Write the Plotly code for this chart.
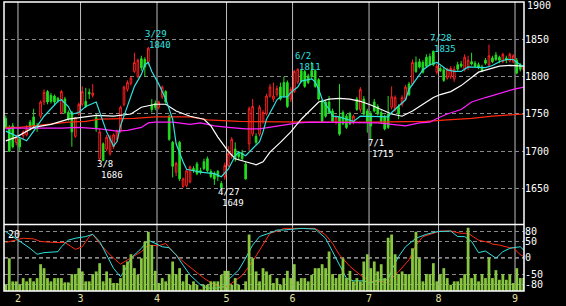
import plotly.graph_objects as go

# ---------------- data (trading-day index 0 = 2022-01-25) ----------------
opens = [1744,1732,1734,1712,1716,1721,1722,1739,1746,1734,1747,1766,1780,1775,1774,1771,1752,1770,1752,1752,
         1720,1750,1763,1767,1779,1775,1745,1690,1710,1703,1697,1706,1716,1727,1763,1783,1791,1807,1800,1824,
         1823,1819,1762,1764,1759,1773,1780,1747,1712,1672,1712,1653,1654,1659,1677,1683,1674,1686,1690,1673,
         1670,1673,1657,1666,1681,1694,1703,1697,1698,1683,1710,1723,1720,1723,1740,1750,1774,1770,1776,1786,
         1792,1792,1770,1780,1793,1808,1807,1801,1808,1808,1796,1767,1766,1766,1754,1739,1746,1752,1747,1750,
         1739,1770,1756,1770,1754,1750,1766,1760,1752,1746,1750,1759,1756,1760,1763,1770,1790,1790,1819,1820,
         1819,1826,1827,1834,1806,1811,1809,1798,1800,1797,1816,1817,1810,1812,1820,1818,1816,1813,1822,1816,
         1825,1829,1826,1820,1825,1821,1820,1822,1815,1809]
highs = [1748,1735,1738,1722,1718,1728,1735,1742,1757,1738,1768,1783,1782,1778,1776,1773,1782,1773,1755,1754,
         1746,1765,1787,1785,1784,1790,1750,1730,1712,1722,1722,1724,1729,1761,1788,1795,1800,1832,1824,1828,
         1826,1840,1770,1768,1768,1788,1782,1749,1714,1686,1714,1665,1676,1681,1680,1686,1678,1690,1693,1676,
         1673,1675,1660,1685,1707,1719,1712,1700,1702,1686,1760,1770,1724,1762,1755,1777,1790,1792,1788,1792,
         1800,1795,1786,1809,1811,1810,1809,1804,1820,1810,1798,1770,1768,1774,1757,1748,1790,1755,1750,1753,
         1749,1773,1786,1774,1757,1754,1770,1763,1755,1749,1774,1787,1775,1763,1775,1789,1793,1823,1827,1824,
         1822,1830,1831,1835,1817,1814,1812,1812,1814,1814,1820,1821,1830,1828,1832,1821,1819,1816,1825,1843,
         1828,1833,1828,1832,1828,1832,1830,1825,1818,1815]
lows = [1730,1699,1704,1708,1700,1716,1720,1728,1730,1726,1744,1762,1763,1764,1762,1765,1750,1750,1741,1706,
        1718,1748,1760,1758,1770,1772,1726,1686,1687,1700,1694,1703,1714,1725,1760,1780,1788,1805,1798,1808,
        1800,1815,1752,1755,1756,1770,1764,1714,1665,1667,1660,1651,1652,1657,1671,1668,1669,1675,1672,1664,
        1655,1660,1649,1662,1679,1690,1686,1688,1688,1662,1700,1720,1708,1720,1737,1748,1772,1766,1773,1768,
        1772,1758,1766,1778,1790,1792,1785,1790,1797,1785,1768,1738,1745,1750,1738,1736,1721,1735,1730,1735,
        1736,1754,1752,1748,1725,1715,1752,1748,1738,1728,1730,1756,1753,1743,1760,1768,1774,1788,1805,1811,
        1804,1812,1814,1814,1803,1806,1793,1796,1797,1793,1808,1812,1807,1809,1815,1812,1810,1806,1816,1813,
        1818,1821,1818,1818,1818,1819,1818,1803,1807,1807]
closes = [1732,1700,1706,1719,1706,1726,1730,1732,1734,1730,1766,1779,1766,1767,1766,1768,1780,1752,1743,1726,
          1745,1763,1780,1760,1777,1778,1730,1726,1688,1719,1719,1722,1727,1759,1786,1792,1798,1819,1822,1812,
          1813,1838,1756,1759,1766,1786,1766,1716,1680,1684,1663,1663,1674,1679,1674,1670,1672,1677,1674,1666,
          1663,1666,1651,1681,1697,1716,1690,1693,1690,1663,1757,1760,1712,1759,1752,1774,1786,1774,1784,1770,
          1774,1760,1783,1807,1810,1794,1787,1792,1800,1787,1770,1740,1747,1752,1740,1746,1723,1737,1732,1737,
          1747,1756,1783,1750,1740,1734,1754,1750,1740,1730,1732,1773,1772,1750,1772,1786,1776,1819,1807,1813,
          1806,1814,1816,1816,1814,1808,1795,1810,1811,1810,1810,1814,1826,1822,1817,1814,1812,1808,1818,1828,
          1820,1823,1822,1830,1822,1830,1828,1805,1810,1813]
volumes = [63,330,97,97,63,130,97,130,97,130,270,230,130,97,130,130,130,87,87,170,
           170,230,197,97,97,170,197,280,97,197,130,80,80,130,263,297,370,230,163,330,
           497,597,463,203,80,130,97,170,297,170,230,97,170,63,97,63,13,63,63,97,
           97,97,163,203,203,63,130,63,13,97,570,330,197,97,230,197,163,80,130,63,
           130,203,130,270,97,130,130,97,163,230,230,270,230,397,170,130,170,330,130,203,
           97,130,97,297,370,230,297,197,270,130,537,570,370,170,197,170,170,430,597,330,
           97,170,170,280,97,170,230,130,63,97,97,130,170,637,130,170,97,170,130,337,
           130,210,113,170,113,163,80,230,130,130]

month_start_idx = [4, 22, 44, 64, 83, 105, 125, 147]
month_labels = ["2", "3", "4", "5", "6", "7", "8", "9"]

# moving averages: (day index, value)
ma5_x = [0,6,8,11,15,16,18,19,21,23,26,27,29,31,32,33,35,37,39,40,41,42,44,46,48,49,51,52,56,60,62,64,66,67,69,71,73,74,75,77,78,79,81,82,84,85,87,88,89,90,91,93,94,96,98,100,102,105,108,110,111,113,115,116,118,120,122,124,125,127,129,131,133,134,136,138,140,142,144,146,148,149]
ma5_y = [1727,1714,1727,1747,1767,1769,1760,1750,1752,1760,1766,1752,1726,1707,1713,1734,1760,1787,1803,1816,1819,1807,1790,1770,1743,1710,1686,1676,1672,1670,1666,1676,1694,1699,1694,1703,1713,1726,1743,1760,1769,1773,1773,1779,1786,1794,1796,1797,1793,1783,1770,1756,1747,1746,1743,1740,1747,1747,1746,1746,1752,1760,1769,1783,1796,1809,1816,1819,1816,1809,1807,1807,1813,1813,1812,1812,1815,1820,1823,1823,1816,1814]
ma25_x = [0,3,8,13,18,22,26,31,36,39,43,46,49,53,57,59,61,64,66,69,72,74,76,79,82,85,88,90,93,96,99,102,105,109,111,114,117,120,123,125,128,131,134,136,139,142,145,149]
ma25_y = [1714,1719,1732,1736,1743,1746,1748,1747,1750,1759,1763,1763,1754,1747,1743,1734,1719,1700,1690,1686,1682,1686,1699,1712,1726,1743,1756,1766,1770,1771,1770,1767,1762,1754,1750,1747,1754,1763,1772,1776,1780,1788,1799,1806,1810,1814,1815,1814]
ma75_x = [0,2,16,21,27,32,35,39,41,43,48,53,56,60,64,69,73,76,80,84,88,93,98,103,107,111,115,119,122,124,127,131,134,138,142,146,149]
ma75_y = [1730,1731,1731,1732,1730,1727,1728,1732,1738,1739,1739,1736,1738,1734,1732,1730,1730,1732,1735,1738,1739,1739,1739,1739,1738,1736,1734,1738,1739,1744,1750,1756,1766,1772,1778,1783,1786]
ma200_x = [0,4,10,18,23,27,37,43,53,58,67,79,88,105,111,121,127,134,140,149]
ma200_y = [1732,1732,1735,1739,1740,1743,1744,1746,1746,1742,1740,1739,1739,1739,1739,1740,1742,1744,1747,1750]

# oscillator lines (lower panel)
osc1_x = [0,2,4,7,9,11,15,16,18,20,23,25,27,29,31,33,34,36,39,41,43,45,47,49,51,53,56,58,61,63,64,67,69,71,73,75,77,78,80,83,85,89,92,94,96,98,100,103,105,107,110,111,113,115,118,121,124,128,130,132,134,136,138,141,143,145,146,148,149]
osc1_y = [80,65,50,29,11,16,19,34,54,60,65,72,50,9,-32,-57,-42,-1,29,54,44,34,31,9,-22,-52,-82,-92,-92,-87,-67,-37,-1,39,65,72,80,85,85,88,90,88,60,19,-22,-62,-70,-70,-77,-67,-67,-37,4,34,60,72,80,82,65,65,50,16,21,-1,19,29,31,34,24]
osc2_x = [0,3,5,8,10,14,17,20,22,24,25,27,30,33,36,39,41,44,46,48,51,54,57,60,63,65,68,71,74,76,79,80,84,89,92,94,96,99,102,105,108,110,111,113,116,118,120,123,125,128,131,133,136,139,140,142,145,146,147,148,149]
osc2_y = [47,54,60,58,50,47,47,26,34,65,72,44,9,-19,-1,19,39,37,44,19,-11,-37,-62,-82,-90,-77,-54,-11,39,75,85,90,90,90,70,44,9,-26,-52,-72,-72,-77,-62,-42,-6,39,65,75,82,82,75,75,54,47,42,39,31,31,19,10,4]

price_ticks = [1650, 1700, 1750, 1800, 1850]
price_top = 1900
osc_ticks = [80, 50, 0, -50, -80]
osc_ticktext = ["80", "50", "0", "-50", "-80"]

# highs / lows labelled on the chart: (day index, date text, value)
peak_marks = [(41, "3/29", 1840), (84, "6/2", 1811), (123, "7/28", 1835)]
trough_marks = [(27, "3/8", 1686), (62, "4/27", 1649), (105, "7/1", 1715)]

# ---------------- figure ----------------
idx = list(range(len(closes)))
CYAN = "#30e0e0"
FONT = "DejaVu Sans Mono"

fig = go.Figure()
fig.add_trace(go.Bar(x=idx, y=volumes, marker=dict(color="#88c63f", line=dict(width=0)),
                     xaxis="x", yaxis="y3", hoverinfo="skip"))
fig.add_trace(go.Scatter(x=osc2_x, y=osc2_y, mode="lines", line=dict(color="#ff2a10", width=1),
                         xaxis="x", yaxis="y2"))
fig.add_trace(go.Scatter(x=osc1_x, y=osc1_y, mode="lines", line=dict(color=CYAN, width=1),
                         xaxis="x", yaxis="y2"))
fig.add_trace(go.Candlestick(x=idx, open=opens, high=highs, low=lows, close=closes,
                             increasing=dict(line=dict(color="#ff2020", width=1), fillcolor="#000000"),
                             decreasing=dict(line=dict(color="#22dd22", width=1), fillcolor="#22dd22"),
                             whiskerwidth=0, xaxis="x", yaxis="y"))
fig.add_trace(go.Scatter(x=ma200_x, y=ma200_y, mode="lines", line=dict(color="#ff2a10", width=1.2), yaxis="y"))
fig.add_trace(go.Scatter(x=ma75_x, y=ma75_y, mode="lines", line=dict(color="#ff20ff", width=1.2), yaxis="y"))
fig.add_trace(go.Scatter(x=ma25_x, y=ma25_y, mode="lines", line=dict(color="#ffffff", width=1.2), yaxis="y"))
fig.add_trace(go.Scatter(x=ma5_x, y=ma5_y, mode="lines", line=dict(color=CYAN, width=1.2), yaxis="y"))

split = 67 / 291.0
shapes = []
for m in month_start_idx:
    shapes.append(dict(type="line", xref="x", yref="paper", x0=m - 0.5, x1=m - 0.5, y0=0, y1=1,
                       line=dict(color="#bdbdbd", width=1), layer="below"))
shapes.append(dict(type="line", xref="paper", yref="y2", x0=0, x1=1, y0=0, y1=0,
                   line=dict(color="#ffffff", width=1, dash="4px,3px"), layer="below"))
shapes.append(dict(type="rect", xref="paper", yref="paper", x0=0, x1=1, y0=0, y1=1,
                   line=dict(color="#ffffff", width=1.5)))
shapes.append(dict(type="line", xref="paper", yref="paper", x0=0, x1=1, y0=split, y1=split,
                   line=dict(color="#ffffff", width=1.5)))

annotations = []
AFONT = 9
for i, d, v in peak_marks:
    annotations.append(dict(x=i, y=v, xref="x", yref="y", text=d, showarrow=False, xanchor="left",
                            xshift=-5, yshift=12.5, font=dict(family=FONT, size=AFONT, color=CYAN)))
    annotations.append(dict(x=i, y=v, xref="x", yref="y", text=str(v), showarrow=False, xanchor="left",
                            xshift=-1, yshift=1.5, font=dict(family=FONT, size=AFONT, color=CYAN)))
for i, d, v in trough_marks:
    annotations.append(dict(x=i, y=v, xref="x", yref="y", text=d, showarrow=False, xanchor="left",
                            xshift=-5, yshift=-2.5, font=dict(family=FONT, size=AFONT, color="#ffffff")))
    annotations.append(dict(x=i, y=v, xref="x", yref="y", text=str(v), showarrow=False, xanchor="left",
                            xshift=-1, yshift=-13.5, font=dict(family=FONT, size=AFONT, color="#ffffff")))
annotations.append(dict(x=0, y=1, xref="paper", yref="paper", yanchor="top", xanchor="left",
                        text="20", showarrow=False, xshift=2, yshift=-(291 - 67) - 1,
                        font=dict(family=FONT, size=10, color="#ffffff")))
# top price label (plotly hides the tick label at the very edge of the figure)
annotations.append(dict(x=1, y=price_top, xref="paper", yref="y", xanchor="left", yanchor="middle",
                        text=str(price_top), showarrow=False, xshift=1, yshift=-3,
                        font=dict(family=FONT, size=10, color="#ffffff")))

fig.update_layout(
    width=566, height=306,
    margin=dict(l=4, r=42, t=2, b=13),
    paper_bgcolor="#000000", plot_bgcolor="#000000",
    showlegend=False, bargap=0.2, boxgap=0.33,
    shapes=shapes, annotations=annotations,
    xaxis=dict(domain=[0, 1], range=[-0.52, 149.08], anchor="y2",
               tickvals=[m - 0.5 for m in month_start_idx], ticktext=month_labels,
               tickfont=dict(family=FONT, size=10, color="#e8e0a0"),
               showgrid=False, zeroline=False, showline=False, ticks="",
               rangeslider=dict(visible=False), fixedrange=True),
    yaxis=dict(domain=[split, 1], range=[1602, 1900], side="right", anchor="x",
               tickvals=price_ticks, tickfont=dict(family=FONT, size=10, color="#ffffff"),
               gridcolor="#8a8a8a", griddash="4px,3px", gridwidth=1,
               zeroline=False, showline=False, ticks=""),
    yaxis2=dict(domain=[0, split], range=[-101, 102], side="right", anchor="x",
                tickvals=osc_ticks, ticktext=osc_ticktext,
                tickfont=dict(family=FONT, size=10, color="#ffffff"),
                gridcolor="#8a8a8a", griddash="4px,3px", gridwidth=1,
                zeroline=False, showline=False, ticks=""),
    yaxis3=dict(domain=[0, split], range=[0, 670], overlaying="y2", visible=False),
)

fig.write_html("out.html")
